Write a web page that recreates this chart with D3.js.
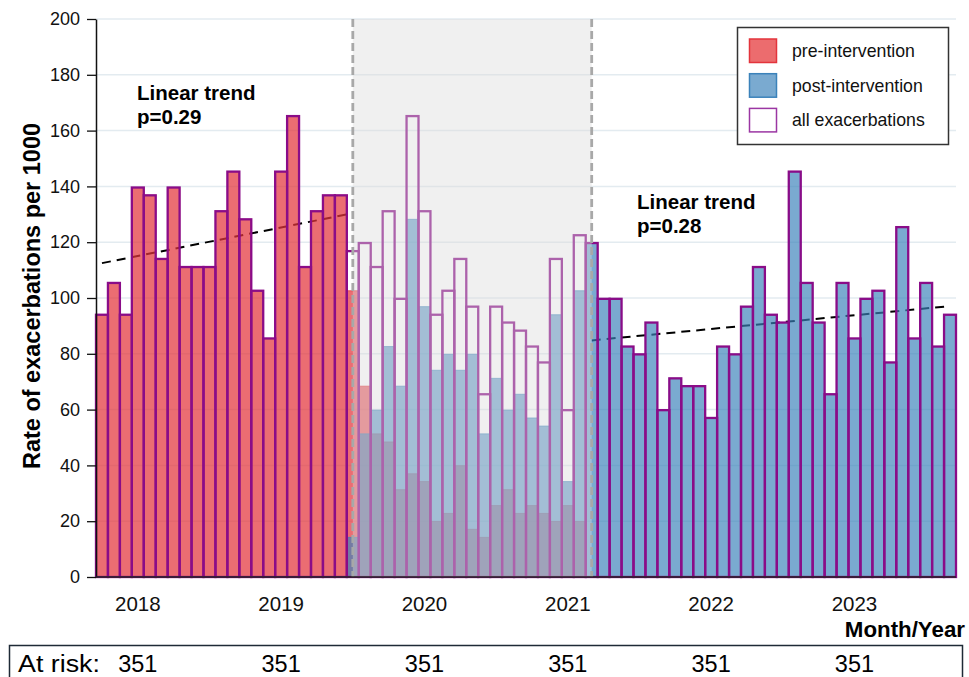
<!DOCTYPE html>
<html>
<head>
<meta charset="utf-8">
<script src="https://cdn.jsdelivr.net/npm/d3@7"></script>
<style>
  body { margin: 0; background: #fff; }
  svg { display: block; font-family: "Liberation Sans", Arial, sans-serif; }
</style>
</head>
<body>
<svg id="chart" width="969" height="677"></svg>
<script>
// monthly rate of exacerbations per 1000 (Oct 2017 - Sep 2023)
const firstMonth = new Date(2017, 9, 1);
const lastMonth = new Date(2023, 9, 1);

const allRate = [
  94.0, 105.4, 94.0, 139.6, 136.8, 114.0, 139.6, 111.1, 111.1, 111.1, 131.1, 145.3,
  128.2, 102.6, 85.5, 145.3, 165.2, 111.1, 131.1, 136.8, 136.8, 116.8, 119.7, 111.1,
  131.1, 99.7, 165.2, 131.1, 94.0, 102.6, 114.0, 96.9, 65.5, 96.9, 91.2, 88.3,
  82.6, 76.9, 114.0, 59.8, 122.5, 119.7, 99.7, 99.7, 82.6, 79.8, 91.2, 59.8,
  71.2, 68.4, 68.4, 57.0, 82.6, 79.8, 96.9, 111.1, 94.0, 91.2, 145.3, 105.4,
  91.2, 65.5, 105.4, 85.5, 99.7, 102.6, 76.9, 125.4, 85.5, 105.4, 82.6, 94.0
];

const preRate = [
  94.0, 105.4, 94.0, 139.6, 136.8, 114.0, 139.6, 111.1, 111.1, 111.1, 131.1, 145.3,
  128.2, 102.6, 85.5, 145.3, 165.2, 111.1, 131.1, 136.8, 136.8, 102.6, 68.4, 51.3,
  48.4, 31.3, 37.0, 34.2, 19.9, 22.8, 39.9, 17.1, 14.2, 25.6, 31.3, 22.8,
  25.6, 22.8, 19.9, 25.6, 19.9, 0, 0, 0, 0, 0, 0, 0,
  0, 0, 0, 0, 0, 0, 0, 0, 0, 0, 0, 0,
  0, 0, 0, 0, 0, 0, 0, 0, 0, 0, 0, 0
];

const postRate = [
  0, 0, 0, 0, 0, 0, 0, 0, 0, 0, 0, 0,
  0, 0, 0, 0, 0, 0, 0, 0, 0, 14.2, 51.3, 59.8,
  82.6, 68.4, 128.2, 96.9, 74.1, 79.8, 74.1, 79.8, 51.3, 71.2, 59.8, 65.5,
  57.0, 54.1, 94.0, 34.2, 102.6, 119.7, 99.7, 99.7, 82.6, 79.8, 91.2, 59.8,
  71.2, 68.4, 68.4, 57.0, 82.6, 79.8, 96.9, 111.1, 94.0, 91.2, 145.3, 105.4,
  91.2, 65.5, 105.4, 85.5, 99.7, 102.6, 76.9, 125.4, 85.5, 105.4, 82.6, 94.0
];

const preTrend = [["2017-10", 112.5], ["2019-07", 130.4]];
const postTrend = [["2021-03", 84.8], ["2023-09", 97.1]];
const interventionStart = "2019-07";
const interventionEnd = "2021-03";

const yTicks = [0, 20, 40, 60, 80, 100, 120, 140, 160, 180, 200];
const yearLabels = [2018, 2019, 2020, 2021, 2022, 2023];
const atRisk = [351, 351, 351, 351, 351, 351];

const legendItems = [
  { label: "pre-intervention", fill: "#ec6c6e", stroke: "#e3343c" },
  { label: "post-intervention", fill: "#7aaad0", stroke: "#3b82ba" },
  { label: "all exacerbations", fill: "#fff", stroke: "#9b36a3" }
];

const fmt = d3.timeFormat("%Y-%m");
const months = d3.timeMonth.range(firstMonth, lastMonth).map(fmt);
const data = months.map((m, i) => ({ m, all: allRate[i], pre: preRate[i], post: postRate[i] }));

const svg = d3.select("#chart");
const plotL = 96, plotR = 956, plotT = 19, plotB = 577;

const x = d3.scaleBand().domain(months).range([plotL, plotR]).padding(0);
const y = d3.scaleLinear().domain([0, 200]).range([plotB, plotT]);
const bw = x.bandwidth();
const cx = m => x(m) + bw / 2;

// grid
svg.append("g")
  .selectAll("line")
  .data(yTicks.filter(d => d > 0))
  .join("line")
  .attr("x1", plotL).attr("x2", plotR)
  .attr("y1", d => y(d)).attr("y2", d => y(d))
  .attr("stroke", "#e3ebf0")
  .attr("stroke-width", 1.5);

// trend lines sit behind the bars
const trendLine = d3.line().x(d => cx(d[0])).y(d => y(d[1]));
[preTrend, postTrend].forEach(t => {
  svg.append("path")
    .attr("d", trendLine(t))
    .attr("fill", "none")
    .attr("stroke", "#000")
    .attr("stroke-width", 2)
    .attr("stroke-dasharray", "9,6");
});

// pre-intervention
svg.append("g")
  .selectAll("rect")
  .data(data.filter(d => d.pre > 0))
  .join("rect")
  .attr("x", d => x(d.m)).attr("width", bw)
  .attr("y", d => y(d.pre)).attr("height", d => y(0) - y(d.pre))
  .attr("fill", "#e3343c").attr("fill-opacity", 0.72)
  .attr("stroke", "#e3343c").attr("stroke-opacity", 0.72);

// post-intervention
svg.append("g")
  .selectAll("rect")
  .data(data.filter(d => d.post > 0))
  .join("rect")
  .attr("x", d => x(d.m)).attr("width", bw)
  .attr("y", d => y(d.post)).attr("height", d => y(0) - y(d.post))
  .attr("fill", "#3b82ba").attr("fill-opacity", 0.68)
  .attr("stroke", "#3b82ba").attr("stroke-opacity", 0.68);

// all exacerbations
svg.append("g")
  .selectAll("rect")
  .data(data)
  .join("rect")
  .attr("x", d => x(d.m)).attr("width", bw)
  .attr("y", d => y(d.all)).attr("height", d => y(0) - y(d.all))
  .attr("fill", "none")
  .attr("stroke", "#8a0c88")
  .attr("stroke-width", 2.3);

// shaded roll-out period
const sx0 = cx(interventionStart), sx1 = cx(interventionEnd);
svg.append("rect")
  .attr("x", sx0).attr("y", plotT)
  .attr("width", sx1 - sx0).attr("height", plotB - plotT)
  .attr("fill", "#dcdcdc").attr("fill-opacity", 0.42);

[sx0, sx1].forEach(v => {
  svg.append("line")
    .attr("x1", v).attr("x2", v)
    .attr("y1", plotT).attr("y2", plotB)
    .attr("stroke", "#a8a8a8")
    .attr("stroke-width", 2.8)
    .attr("stroke-dasharray", "8,4");
});

// axes
const yAxis = svg.append("g")
  .attr("transform", `translate(${plotL},0)`)
  .call(d3.axisLeft(y).tickValues(yTicks).tickSize(9).tickPadding(7).tickSizeOuter(0));
yAxis.select(".domain").attr("stroke", "#111").attr("stroke-width", 1.5);
yAxis.selectAll(".tick line").attr("stroke", "#111").attr("stroke-width", 1.3);
yAxis.selectAll(".tick text")
  .attr("font-size", 18)
  .attr("font-family", "Liberation Sans, Arial, sans-serif")
  .attr("fill", "#111");

svg.append("line")
  .attr("x1", plotL).attr("x2", plotR)
  .attr("y1", plotB).attr("y2", plotB)
  .attr("stroke", "#222").attr("stroke-width", 1.5);

svg.append("g")
  .selectAll("text")
  .data(yearLabels)
  .join("text")
  .attr("x", d => cx(`${d}-01`))
  .attr("y", 611)
  .attr("text-anchor", "middle")
  .attr("font-size", 20.5)
  .attr("fill", "#111")
  .text(d => d);

svg.append("text")
  .attr("x", 965).attr("y", 637)
  .attr("text-anchor", "end")
  .attr("font-size", 22.3)
  .attr("font-weight", "bold")
  .text("Month/Year");

svg.append("text")
  .attr("transform", "translate(40,296) rotate(-90)")
  .attr("text-anchor", "middle")
  .attr("font-size", 23.5)
  .attr("font-weight", "bold")
  .text("Rate of exacerbations per 1000");

// trend annotations
const notes = [
  { x: 137, y: 100, lines: ["Linear trend", "p=0.29"] },
  { x: 637, y: 209, lines: ["Linear trend", "p=0.28"] }
];
notes.forEach(n => {
  const t = svg.append("text")
    .attr("x", n.x).attr("y", n.y)
    .attr("font-size", 20.5)
    .attr("font-weight", "bold");
  t.selectAll("tspan")
    .data(n.lines)
    .join("tspan")
    .attr("x", n.x)
    .attr("dy", (d, i) => i ? 24 : 0)
    .text(d => d);
});

// legend
const lg = svg.append("g");
lg.append("rect")
  .attr("x", 737.5).attr("y", 27.5)
  .attr("width", 211).attr("height", 117)
  .attr("fill", "#fff")
  .attr("stroke", "#333").attr("stroke-width", 1.5);
legendItems.forEach((d, i) => {
  const yy = 39 + i * 34.7;
  lg.append("rect")
    .attr("x", 749.5).attr("y", yy)
    .attr("width", 27).attr("height", 23.5)
    .attr("fill", d.fill)
    .attr("stroke", d.stroke).attr("stroke-width", 1.5);
  lg.append("text")
    .attr("x", 792).attr("y", yy + 18)
    .attr("font-size", 17.7)
    .attr("fill", "#111")
    .text(d.label);
});

// at risk table
svg.append("rect")
  .attr("x", 9.5).attr("y", 645.5)
  .attr("width", 953).attr("height", 45)
  .attr("fill", "none")
  .attr("stroke", "#1e2a36").attr("stroke-width", 1.5);
svg.append("text")
  .attr("x", 18).attr("y", 672)
  .attr("font-size", 23.5)
  .attr("textLength", 82)
  .attr("lengthAdjust", "spacingAndGlyphs")
  .text("At risk:");
svg.append("g")
  .selectAll("text")
  .data(yearLabels)
  .join("text")
  .attr("x", d => cx(`${d}-01`))
  .attr("y", 672)
  .attr("text-anchor", "middle")
  .attr("font-size", 23.5)
  .text((d, i) => atRisk[i]);
</script>
</body>
</html>
